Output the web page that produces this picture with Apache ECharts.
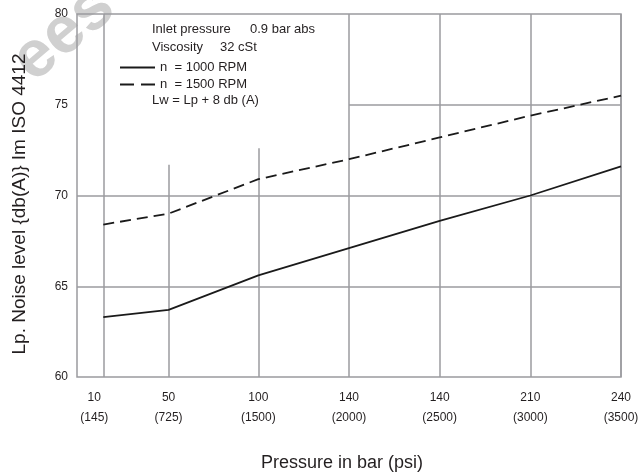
<!DOCTYPE html>
<html>
<head>
    <meta charset="utf-8">
    <title>Noise level</title>
    <script src="https://cdn.jsdelivr.net/npm/echarts@6/dist/echarts.min.js"></script>
    <style>
        html, body { margin: 0; padding: 0; background: #fff; }
        #chart { width: 640px; height: 473px; }
    </style>
</head>
<body>
<div id="chart"></div>
<script>
    // x categories: pressure in bar, psi underneath
    var barLabels = ['10', '50', '100', '140', '140', '210', '240'];
    var psiLabels = ['145', '725', '1500', '2000', '2500', '3000', '3500'];
    // where each category sits on the (uneven) x scale
    var tickPos = [0, 0.72, 1.71, 2.71, 3.71, 4.71, 5.71];

    var rpm1000 = [63.3, 63.7, 65.6, 67.1, 68.6, 70.0, 71.6];
    var rpm1500 = [68.4, 69.0, 70.9, 72.0, 73.2, 74.4, 75.5];

    // vertical grid lines are cut short under the text box
    var vGridTop = [80, 71.7, 72.6, 80, 80, 80, 80];

    var gridColor = '#9b9b9f';
    var inkColor = '#231f20';
    var font = 'Liberation Sans';
    var xMin = -0.29, xMax = 5.71;

    function toPoints(values) {
        return values.map(function (v, i) { return [tickPos[i], v]; });
    }

    var gridLines = [];
    tickPos.forEach(function (x, i) {
        gridLines.push([{ coord: [x, vGridTop[i]] }, { coord: [x, 60] }]);
    });
    gridLines.push([{ coord: [xMin, 65] }, { coord: [xMax, 65] }]);
    gridLines.push([{ coord: [xMin, 70] }, { coord: [xMax, 70] }]);
    gridLines.push([{ coord: [tickPos[3], 75] }, { coord: [xMax, 75] }]);

    function note(text, x, y) {
        return {
            type: 'text', x: x, y: y,
            style: { text: text, fontSize: 13, fill: inkColor, fontFamily: font, verticalAlign: 'middle' }
        };
    }

    var myChart = echarts.init(document.getElementById('chart'));
    myChart.setOption({
        animation: false,
        textStyle: { fontFamily: font },
        grid: {
            left: 77, right: 19, top: 14, bottom: 96,
            show: true, borderColor: gridColor, borderWidth: 1.5,
            outerBoundsMode: 'none'
        },
        legend: {
            orient: 'vertical',
            left: 114, top: 56,
            itemWidth: 35, itemHeight: 14, itemGap: 4,
            itemStyle: { opacity: 0 },
            textStyle: { fontSize: 13, color: inkColor, fontFamily: font },
            data: [
                { name: 'n  = 1000 RPM' },
                { name: 'n  = 1500 RPM', lineStyle: { type: [14, 7] } }
            ]
        },
        xAxis: {
            type: 'value',
            min: xMin, max: xMax,
            axisLine: { show: false },
            axisTick: { show: false },
            splitLine: { show: false },
            axisLabel: {
                customValues: tickPos,
                margin: 11,
                lineHeight: 20,
                fontSize: 12,
                color: inkColor,
                formatter: function (val) {
                    var i = tickPos.indexOf(val);
                    if (i < 0) return '';
                    if (i === 0) return '{first|' + barLabels[i] + '}\n{first|(' + psiLabels[i] + ')}';
                    return barLabels[i] + '\n(' + psiLabels[i] + ')';
                },
                rich: {
                    first: { fontSize: 12, lineHeight: 20, color: inkColor, padding: [0, 18, 0, 0] }
                }
            }
        },
        yAxis: {
            type: 'value',
            min: 60, max: 80, interval: 5,
            axisLine: { show: false },
            axisTick: { show: false },
            splitLine: { show: false },
            axisLabel: { fontSize: 12, color: inkColor, margin: 9 }
        },
        graphic: [
            {
                type: 'text', x: 20, y: 204, rotation: Math.PI / 2,
                style: {
                    text: 'Lp. Noise level {db(A)} Im ISO 4412',
                    fontSize: 19, fill: inkColor, fontFamily: font,
                    align: 'center', verticalAlign: 'middle'
                }
            },
            {
                type: 'text', x: 342, y: 463,
                style: {
                    text: 'Pressure in bar (psi)',
                    fontSize: 18, fill: inkColor, fontFamily: font,
                    align: 'center', verticalAlign: 'middle'
                }
            },
            note('Inlet pressure', 152, 29),
            note('0.9 bar abs', 250, 29),
            note('Viscosity', 152, 47),
            note('32 cSt', 220, 47),
            note('Lw = Lp + 8 db (A)', 152, 100),
            // faint watermark in the corner
            {
                type: 'text', x: 64, y: 34, rotation: 0.7, z: -10,
                style: {
                    text: 'ees', fontSize: 66, fontWeight: 'bold', fill: '#d0d0d0',
                    fontFamily: font, align: 'center', verticalAlign: 'middle'
                }
            }
        ],
        series: [
            {
                name: 'n  = 1000 RPM',
                type: 'line',
                symbol: 'none',
                data: toPoints(rpm1000),
                lineStyle: { color: '#1a1a1a', width: 1.8 },
                itemStyle: { color: '#1a1a1a' },
                z: 3,
                markLine: {
                    silent: true,
                    symbol: 'none',
                    label: { show: false },
                    lineStyle: { color: gridColor, width: 1.5, type: 'solid' },
                    z: 1,
                    data: gridLines
                }
            },
            {
                name: 'n  = 1500 RPM',
                type: 'line',
                symbol: 'none',
                data: toPoints(rpm1500),
                lineStyle: { color: '#1a1a1a', width: 1.8, type: [11, 6] },
                itemStyle: { color: '#1a1a1a' },
                z: 3
            }
        ]
    });
</script>
</body>
</html>
